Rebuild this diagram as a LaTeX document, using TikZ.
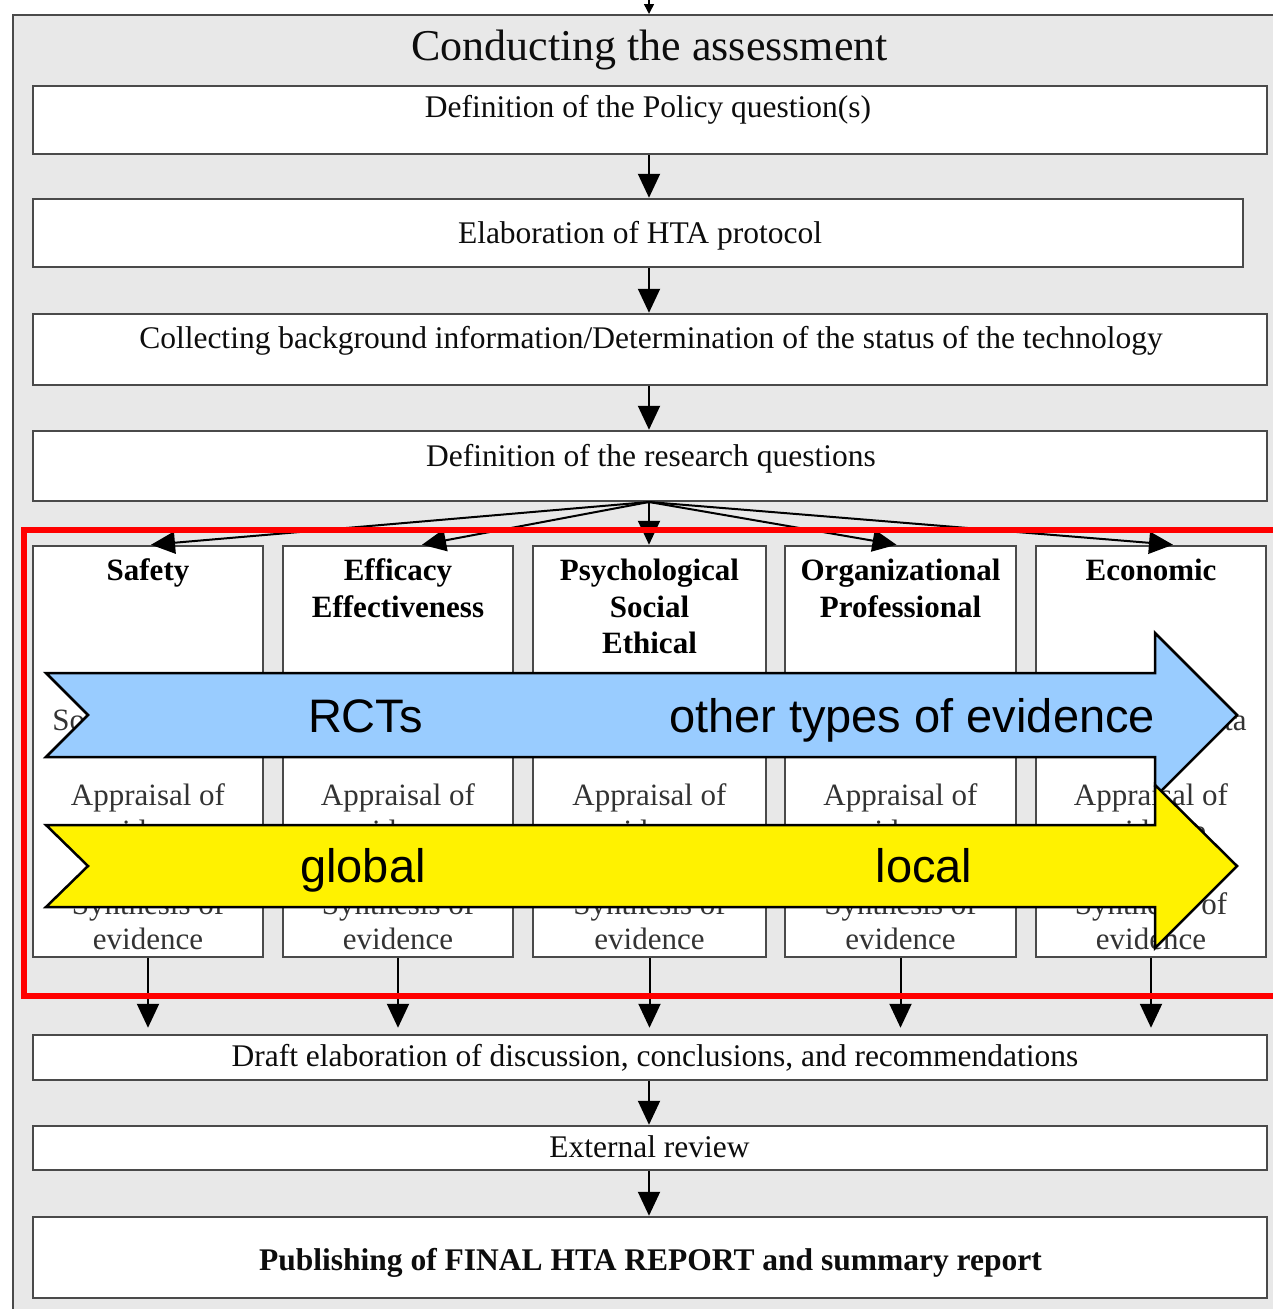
\documentclass[tikz,border=0pt]{standalone}
\usepackage{fontspec}
\setmainfont{Liberation Serif}
\newfontfamily\bandfont{Liberation Sans}
\usetikzlibrary{arrows.meta}
\definecolor{panelgray}{HTML}{E8E8E8}
\definecolor{boxline}{HTML}{4A4A4A}
\definecolor{rctblue}{HTML}{99CCFF}
\begin{document}
\begin{tikzpicture}[x=1pt,y=-1pt,
  panel/.style={draw=boxline, line width=2pt, fill=panelgray, inner sep=0pt, anchor=north west},
  box/.style={draw=boxline, line width=2.5pt, fill=white, inner sep=0pt},
  boxtext/.style={anchor=base, inner sep=0pt, font=\fontsize{31.5}{36}\selectfont, text=black!95},
  title/.style={anchor=base, inner sep=0pt, font=\fontsize{44}{50}\selectfont, text=black!95},
  colhead/.style={anchor=base, inner sep=0pt, font=\fontsize{31}{36}\selectfont\bfseries, text=black},
  coltext/.style={anchor=base, inner sep=0pt, font=\fontsize{31}{36}\selectfont, text=black!80},
  flow/.style={line width=2pt, -{Triangle[length=24pt,width=22pt]}},
  band/.style={draw=black, line width=2.5pt, line join=miter},
  bandtext/.style={anchor=base, inner sep=0pt, font=\bandfont\fontsize{47}{56}\selectfont, text=black}
]
\useasboundingbox (0,0) rectangle (1272,1309);

% grey frame of the assessment stage
\node[panel, minimum width=1320pt, minimum height=1330pt] (panel) at (12,14) {};
\coordinate (spine) at (649,0);
\coordinate (feed) at (649,-20);
\draw[line width=1.5pt, -{Triangle[length=10pt,width=10pt]}] (feed) -- (panel.north -| feed);

\node[title] (ttl) at (649.5,60) {Conducting the assessment};

% sequential steps
\node[box, minimum width=1234pt, minimum height=68pt] (q1) at (650,120) {};
\node[boxtext] (q1t) at (648,117) {Definition of the Policy question(s)};
\node[box, minimum width=1210pt, minimum height=68pt] (q2) at (638,233) {};
\node[boxtext] (q2t) at (640,243) {Elaboration of HTA protocol};
\node[box, minimum width=1234pt, minimum height=71pt] (q3) at (650,349.5) {};
\node[boxtext] (q3t) at (651,348) {Collecting background information/Determination of the status of the technology};
\node[box, minimum width=1234pt, minimum height=70pt] (q4) at (650,466) {};
\node[boxtext] (q4t) at (651,466) {Definition of the research questions};

\draw[flow] (q1.south -| spine) -- (q2.north -| spine);
\draw[flow] (q2.south -| spine) -- (q3.north -| spine);
\draw[flow] (q3.south -| spine) -- (q4.north -| spine);

% assessment domains
\foreach \i/\x/\w in {1/148/230,2/398/230,3/649.5/233,4/900.5/231,5/1151/230} {
  \node[box, minimum width=\w pt, minimum height=411pt] (c\i) at (\x,751.5) {};
  \node[coltext] (apr\i) at (\x,805) {Appraisal of};
  \node[coltext] (aprb\i) at (\x,841) {evidence};
  \node[coltext] (syn\i) at (\x,914) {Synthesis of};
  \node[coltext] (synb\i) at (\x,949) {evidence};
}
\node[coltext] (src1) at (148,730) {Sources of data};
\node[coltext] (src5) at (1151,730) {Sources of data};
\node[colhead] (h1) at (148,580) {Safety};
\node[colhead] (h2a) at (398,580) {Efficacy};
\node[colhead] (h2b) at (398,617) {Effectiveness};
\node[colhead] (h3a) at (649.5,580) {Psychological};
\node[colhead] (h3b) at (649.5,617) {Social};
\node[colhead] (h3c) at (649.5,653) {Ethical};
\node[colhead] (h4a) at (900.5,580) {Organizational};
\node[colhead] (h4b) at (900.5,617) {Professional};
\node[colhead] (h5) at (1151,580) {Economic};

% fan-out from the research questions
\coordinate (fan) at (649,502);
\draw[flow] (fan) -- ([xshift=3pt]c1.north);
\draw[flow] (fan) -- ([xshift=24pt]c2.north);
\draw[flow] (fan) -- (c3.north -| spine);
\draw[flow] (fan) -- ([xshift=-4pt]c4.north);
\draw[flow] (fan) -- ([xshift=22pt]c5.north);

% closing steps
\node[box, minimum width=1234pt, minimum height=45pt] (d1) at (650,1057.5) {};
\node[boxtext] (d1t) at (655,1066) {Draft elaboration of discussion, conclusions, and recommendations};
\node[box, minimum width=1234pt, minimum height=44pt] (d2) at (650,1148) {};
\node[boxtext] (d2t) at (649.5,1157) {External review};
\node[box, minimum width=1234pt, minimum height=81pt] (d3) at (650,1257.5) {};
\node[boxtext, font=\fontsize{31.5}{36}\selectfont\bfseries] (d3t) at (650.5,1270) {Publishing of FINAL HTA REPORT and summary report};

\foreach \i in {1,...,5} {
  \draw[flow, shorten >=6pt] (c\i.south) -- (d1.north -| c\i.south);
}
\draw[flow] (d1.south -| spine) -- (d2.north -| spine);
\draw[flow] (d2.south -| spine) -- (d3.north -| spine);

% evidence bands
\draw[band, fill=rctblue] (46,673) -- (1155,673) -- (1155,633) -- (1237,715)
  -- (1155,797) -- (1155,757) -- (46,757) -- (88,715) -- cycle;
\node[bandtext] (rct) at (365.5,732) {RCTs};
\node[bandtext] (oth) at (912,732) {other types of evidence};

\draw[band, fill=yellow] (46,825) -- (1155,825) -- (1155,785) -- (1237,866)
  -- (1155,948) -- (1155,907) -- (46,907) -- (88,866) -- cycle;
\node[bandtext] (glb) at (363,882) {global};
\node[bandtext] (loc) at (924,882) {local};

% highlight frame
\draw[red, line width=6pt, line join=miter] (1300,530) -- (23.5,530) -- (23.5,996) -- (1300,996);
\end{tikzpicture}
\end{document}
